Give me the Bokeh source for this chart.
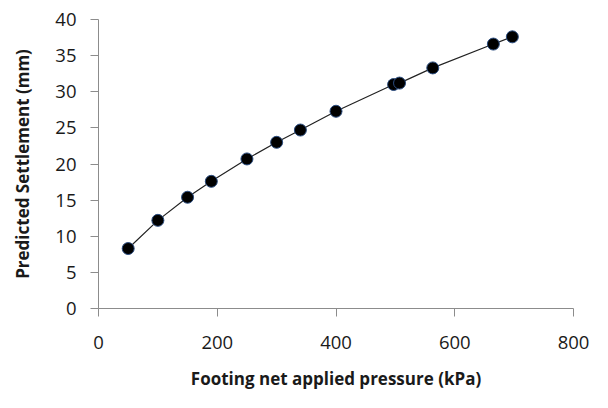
from bokeh.plotting import figure
from bokeh.models import Range1d, FixedTicker
from bokeh.embed import file_html
from bokeh.resources import INLINE

# Data
pressure_kpa = [50, 100, 150, 190, 250, 300, 340, 400, 497, 507, 563, 665, 697]
settlement_mm = [8.3, 12.2, 15.4, 17.6, 20.7, 23.0, 24.7, 27.3, 31.0, 31.2, 33.3, 36.6, 37.6]
x_ticks = [0, 200, 400, 600, 800]
y_ticks = [0, 5, 10, 15, 20, 25, 30, 35, 40]

p = figure(width=592, height=392, output_backend="svg", toolbar_location=None,
           x_range=Range1d(0, 800), y_range=Range1d(0, 40),
           min_border_left=98, min_border_right=19, min_border_top=19, min_border_bottom=83)
p.outline_line_color = None
p.xgrid.visible = False
p.ygrid.visible = False
p.background_fill_color = "white"
p.border_fill_color = "white"

p.line(pressure_kpa, settlement_mm, line_color="#222222", line_width=1.2)
p.scatter(pressure_kpa, settlement_mm, size=12, fill_color="black",
          line_color="#2b4d80", line_width=1)

for ax in (p.xaxis[0], p.yaxis[0]):
    ax.axis_line_color = "#8c8c8c"
    ax.major_tick_line_color = "#8c8c8c"
    ax.minor_tick_line_color = None
    ax.major_tick_in = 0
    ax.major_tick_out = 8
    ax.major_label_text_font = "Open Sans"
    ax.major_label_text_font_size = "18.5px"
    ax.major_label_text_color = "#1a1a1a"
    ax.axis_label_text_font = "Open Sans"
    ax.axis_label_text_font_size = "17px"
    ax.axis_label_text_font_style = "bold"
    ax.axis_label_text_color = "#1a1a1a"

p.xaxis.ticker = FixedTicker(ticks=x_ticks)
p.yaxis.ticker = FixedTicker(ticks=y_ticks)
p.xaxis.axis_label = "Footing net applied pressure (kPa)"
p.yaxis.axis_label = "Predicted Settlement (mm)"
p.xaxis.major_label_standoff = 19
p.yaxis.major_label_standoff = 14
p.xaxis.axis_label_standoff = 15
p.yaxis.axis_label_standoff = 18

open("out.html", "w").write(file_html(p, INLINE))
